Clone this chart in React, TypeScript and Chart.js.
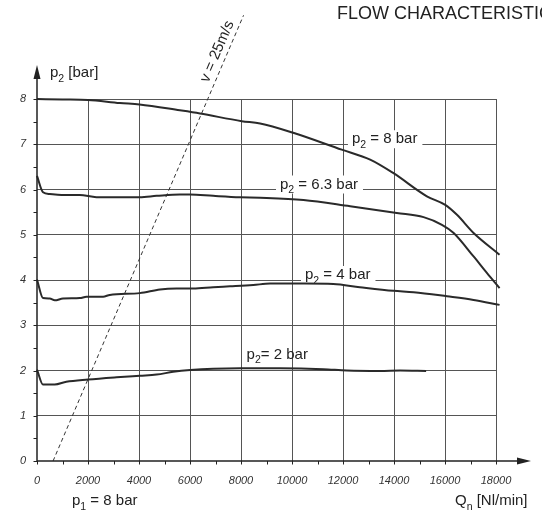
import React, { useEffect, useRef } from "react";
import { Chart, registerables } from "chart.js";

Chart.register(...registerables);

const FONT = "'Liberation Sans', Arial, Helvetica, sans-serif";
const INK = "#222222";

// Axis ticks
const xTickValues = [0, 2000, 4000, 6000, 8000, 10000, 12000, 14000, 16000, 18000];
const yTickValues = [0, 1, 2, 3, 4, 5, 6, 7, 8];

// p2 = 8 bar
const q8 = [0, 1000, 2000, 3250, 4020, 5600, 6390, 8030, 8750, 10015, 11950, 13065, 13980, 15290, 16010, 16470, 17120, 18140];
const p8 = [8.0, 7.99, 7.98, 7.91, 7.88, 7.75, 7.68, 7.51, 7.46, 7.26, 6.88, 6.66, 6.36, 5.85, 5.66, 5.44, 5.04, 4.56];

// p2 = 6.3 bar
const q63 = [0, 236, 500, 960, 1680, 2330, 4030, 4690, 5600, 6000, 6910, 7960, 8750, 10450, 12280, 14110, 15160, 15880, 16340, 17120, 17650, 18140];
const p63 = [6.3, 5.94, 5.9, 5.88, 5.88, 5.83, 5.83, 5.86, 5.89, 5.89, 5.86, 5.83, 5.82, 5.77, 5.63, 5.48, 5.39, 5.22, 5.04, 4.52, 4.15, 3.82];

// p2 = 4 bar
const q4 = [0, 236, 500, 695, 1020, 1680, 1940, 2590, 2855, 4030, 4820, 5470, 6130, 6910, 7570, 8480, 9140, 10500, 11620, 12660, 13980, 14770, 16080, 17120, 18140];
const p4 = [4.01, 3.6, 3.59, 3.55, 3.59, 3.6, 3.63, 3.63, 3.67, 3.71, 3.79, 3.81, 3.81, 3.84, 3.86, 3.89, 3.92, 3.92, 3.91, 3.84, 3.76, 3.73, 3.64, 3.56, 3.45];

// p2 = 2 bar
const q2 = [0, 236, 695, 1150, 2000, 3120, 4030, 4690, 5340, 6010, 6910, 7960, 9530, 11230, 12150, 13460, 14240, 15260];
const p2 = [2.02, 1.69, 1.69, 1.75, 1.8, 1.85, 1.885, 1.91, 1.97, 2.01, 2.04, 2.05, 2.05, 2.03, 2.0, 1.99, 2.0, 1.99];

// v = 25 m/s line
const qV = [630, 8100];
const pV = [0, 9.85];

type Part = [string, boolean];
const curveLabels: { parts: Part[]; q: number; p: number; gap: boolean }[] = [
  { parts: [["p", false], ["2", true], [" = 8 bar", false]], q: 12350, p: 7, gap: true },
  { parts: [["p", false], ["2", true], [" = 6.3 bar", false]], q: 9530, p: 6, gap: true },
  { parts: [["p", false], ["2", true], [" = 4 bar", false]], q: 10510, p: 4, gap: true },
  { parts: [["p", false], ["2", true], ["= 2 bar", false]], q: 8220, p: 2.24, gap: false },
];

const zip = (xs: number[], ys: number[]) => xs.map((x, i) => ({ x, y: ys[i] }));

function drawRich(ctx: CanvasRenderingContext2D, x: number, y: number, parts: Part[], size: number, measureOnly = false): number {
  let cx = x;
  for (const [t, sub] of parts) {
    const s = sub ? size * 0.7 : size;
    ctx.font = `${s}px ${FONT}`;
    if (!measureOnly) ctx.fillText(t, cx, y + (sub ? size * 0.3 : 0));
    cx += ctx.measureText(t).width;
  }
  return cx - x;
}

const extrasPlugin = {
  id: "extras",
  beforeDatasetsDraw(chart: any) {
    const ctx: CanvasRenderingContext2D = chart.ctx;
    const xs = chart.scales.x;
    const ys = chart.scales.y;
    ctx.save();
    ctx.textAlign = "left";
    ctx.textBaseline = "alphabetic";
    for (const lab of curveLabels) {
      const x = xs.getPixelForValue(lab.q);
      const y = ys.getPixelForValue(lab.p) - 1;
      const size = 15;
      const w = drawRich(ctx, x, y, lab.parts, size, true);
      if (lab.gap) {
        ctx.fillStyle = "#ffffff";
        ctx.fillRect(x - 4, y - 13, w + 9, 18);
      }
      ctx.fillStyle = INK;
      drawRich(ctx, x, y, lab.parts, size);
    }
    ctx.restore();
  },
  afterDatasetsDraw(chart: any) {
    const ctx: CanvasRenderingContext2D = chart.ctx;
    const xs = chart.scales.x;
    const ys = chart.scales.y;
    const { left, bottom } = chart.chartArea;
    ctx.save();
    ctx.strokeStyle = INK;
    ctx.fillStyle = INK;
    // axes
    ctx.lineWidth = 1.5;
    ctx.beginPath();
    ctx.moveTo(left, bottom);
    ctx.lineTo(519, bottom);
    ctx.moveTo(left, bottom);
    ctx.lineTo(left, 78);
    ctx.stroke();
    ctx.beginPath();
    ctx.moveTo(517, bottom - 3.5);
    ctx.lineTo(531, bottom);
    ctx.lineTo(517, bottom + 3.5);
    ctx.closePath();
    ctx.fill();
    ctx.beginPath();
    ctx.moveTo(left - 3.5, 79);
    ctx.lineTo(left, 65);
    ctx.lineTo(left + 3.5, 79);
    ctx.closePath();
    ctx.fill();
    // tick marks
    ctx.lineWidth = 1;
    ctx.beginPath();
    for (let v = 0; v <= 18000; v += 1000) {
      const px = Math.round(xs.getPixelForValue(v)) + 0.5;
      ctx.moveTo(px, bottom);
      ctx.lineTo(px, bottom + 3.5);
    }
    for (let v = 0; v <= 8; v += 0.5) {
      const py = Math.round(ys.getPixelForValue(v)) + 0.5;
      ctx.moveTo(left - 3.5, py);
      ctx.lineTo(left, py);
    }
    ctx.stroke();

    // texts
    ctx.textAlign = "left";
    ctx.textBaseline = "alphabetic";
    ctx.font = `18px ${FONT}`;
    ctx.fillText("FLOW CHARACTERISTICS", 337, 19);
    drawRich(ctx, 50, 77, [["p", false], ["2", true], [" [bar]", false]], 15);
    drawRich(ctx, 72, 505, [["p", false], ["1", true], [" = 8 bar", false]], 15);
    drawRich(ctx, 455, 505, [["Q", false], ["n", true], [" [Nl/min]", false]], 15);

    // v = 25m/s label along the dashed line
    const ax = xs.getPixelForValue(qV[0]);
    const ay = ys.getPixelForValue(pV[0]);
    const bx = xs.getPixelForValue(qV[1]);
    const by = ys.getPixelForValue(pV[1]);
    const ang = Math.atan2(by - ay, bx - ax);
    const t = 0.91;
    const mx = ax + (bx - ax) * t;
    const my = ay + (by - ay) * t;
    const nx = Math.sin(ang);
    const ny = -Math.cos(ang);
    ctx.translate(mx + nx * 10, my + ny * 10);
    ctx.rotate(ang);
    ctx.textAlign = "center";
    ctx.textBaseline = "middle";
    ctx.font = `15px ${FONT}`;
    ctx.fillText("v = 25m/s", 0, 0);
    ctx.restore();
  },
};

export default function App() {
  const ref = useRef<HTMLCanvasElement | null>(null);
  useEffect(() => {
    if (!ref.current) return;
    const curveStyle = {
      borderColor: "#2a2a2a",
      borderWidth: 2,
      pointRadius: 0,
      fill: false,
      cubicInterpolationMode: "monotone" as const,
      clip: false as const,
    };
    const tickFont = { family: FONT, size: 11, style: "italic" as const };
    const gridColor = (c: any) => (c.tick && c.tick.value === 0 ? "rgba(0,0,0,0)" : "#555555");
    const chart = new Chart(ref.current, {
      type: "line",
      data: {
        datasets: [
          { label: "p2 = 8 bar", data: zip(q8, p8), ...curveStyle },
          { label: "p2 = 6.3 bar", data: zip(q63, p63), ...curveStyle },
          { label: "p2 = 4 bar", data: zip(q4, p4), ...curveStyle },
          { label: "p2 = 2 bar", data: zip(q2, p2), ...curveStyle },
          {
            label: "v = 25m/s",
            data: zip(qV, pV),
            borderColor: "#333333",
            borderWidth: 1,
            borderDash: [4, 3],
            pointRadius: 0,
            fill: false,
            tension: 0,
            clip: false as const,
          },
        ],
      },
      options: {
        animation: false,
        responsive: false,
        maintainAspectRatio: false,
        devicePixelRatio: 1,
        layout: { padding: { left: 0, right: 46, top: 99, bottom: 0 } },
        plugins: { legend: { display: false }, tooltip: { enabled: false }, title: { display: false } },
        scales: {
          x: {
            type: "linear",
            min: 0,
            max: 18000,
            afterBuildTicks: (s: any) => {
              s.ticks = xTickValues.map((v) => ({ value: v }));
            },
            afterFit: (s: any) => {
              s.height = 50;
            },
            ticks: { font: tickFont, color: "#333333", padding: 13, maxRotation: 0, autoSkip: false, callback: (v: any) => String(v) },
            grid: { color: gridColor, lineWidth: 1, drawTicks: false },
            border: { display: false },
          },
          y: {
            type: "linear",
            min: 0,
            max: 8,
            afterBuildTicks: (s: any) => {
              s.ticks = yTickValues.map((v) => ({ value: v }));
            },
            afterFit: (s: any) => {
              s.width = 37;
            },
            ticks: { font: tickFont, color: "#333333", padding: 11, autoSkip: false, callback: (v: any) => String(v) },
            grid: { color: gridColor, lineWidth: 1, drawTicks: false },
            border: { display: false },
          },
        },
      },
      plugins: [extrasPlugin],
    } as any);
    return () => chart.destroy();
  }, []);
  return (
    <div style={{ position: "absolute", left: 0, top: 0, width: 542, height: 511, background: "#fff" }}>
      <canvas ref={ref} width={542} height={511} style={{ display: "block", width: 542, height: 511 }} />
    </div>
  );
}
